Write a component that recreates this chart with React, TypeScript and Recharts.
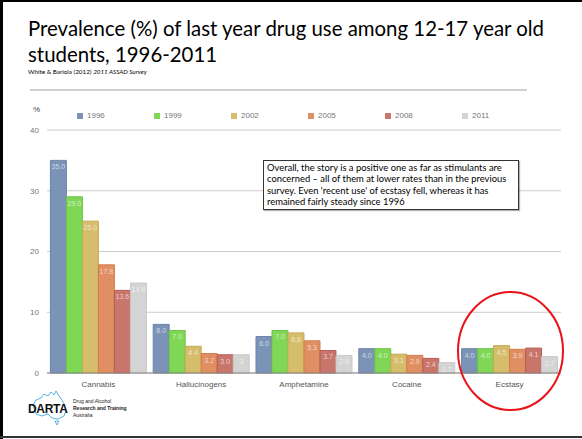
import React from 'react';
import { BarChart, Bar, XAxis, YAxis, CartesianGrid, LabelList } from 'recharts';

const drugs = ['Cannabis', 'Hallucinogens', 'Amphetamine', 'Cocaine', 'Ecstasy'];
const years = ['1996', '1999', '2002', '2005', '2008', '2011'];
const v1996 = [35.0, 8.0, 6.0, 4.0, 4.0];
const v1999 = [29.0, 7.0, 7.0, 4.0, 4.0];
const v2002 = [25.0, 4.4, 6.6, 3.1, 4.5];
const v2005 = [17.8, 3.2, 5.3, 2.9, 3.9];
const v2008 = [13.6, 3.0, 3.7, 2.4, 4.1];
const v2011 = [14.8, 3, 2.9, 1.7, 2.7];
const yTicks = [0, 10, 20, 30, 40];

const fills = ['#7b93b6', '#80d756', '#d6bd6c', '#e08f62', '#c8756b', '#d4d4d4'];
const strokes = ['#6d84a6', '#6cc348', '#c6a955', '#d37b4c', '#b75c52', '#c8c8c8'];

const seriesValues = [v1996, v1999, v2002, v2005, v2008, v2011];
const data = drugs.map((name, i) => {
  const row: Record<string, string | number> = { name };
  years.forEach((y, j) => {
    row[y] = seriesValues[j][i];
  });
  return row;
});

const noteLines = [
  'Overall, the story is a positive one as far as stimulants are',
  'concerned \u2013 all of them at lower rates than in the previous',
  "survey. Even 'recent use' of ecstasy fell, whereas it has",
  'remained fairly steady since 1996',
];

const chartFont = '"Liberation Sans", Arial, sans-serif';
const slideFont = 'Lato, "Open Sans", sans-serif';

const LegendRow = () => (
  <div style={{ display: 'flex', fontFamily: chartFont, fontSize: 8, color: '#777' }}>
    {years.map((y, i) => (
      <div key={y} style={{ width: 77, display: 'flex', alignItems: 'center' }}>
        <span style={{ display: 'inline-block', width: 6, height: 6, background: fills[i], marginRight: 4 }} />
        {y}
      </div>
    ))}
  </div>
);

export default function App() {
  return (
    <div style={{ position: 'absolute', left: 0, top: 0, width: 582, height: 439, background: '#fff', overflow: 'hidden' }}>
      {/* slide frame */}
      <div style={{ position: 'absolute', left: 0, top: 0, width: 3, height: 439, background: '#000' }} />
      <div style={{ position: 'absolute', left: 0, top: 0, width: 582, height: 2, background: '#000' }} />
      <div style={{ position: 'absolute', left: 0, top: 436, width: 582, height: 2, background: '#333' }} />

      <div style={{ position: 'absolute', left: 28, top: 15, fontFamily: slideFont, fontSize: 20.4, lineHeight: '26px', color: '#000', whiteSpace: 'nowrap' }}>
        Prevalence (%) of last year drug use among 12-17 year old
        <br />
        students, 1996-2011
      </div>
      <div style={{ position: 'absolute', left: 28, top: 68, fontFamily: slideFont, fontSize: 6.3, color: '#000' }}>
        White &amp; Bariola (2012) <i>2011 ASSAD Survey</i>
      </div>
      <div style={{ position: 'absolute', left: 30, top: 89, width: 497, height: 1.5, background: '#d0d0d0' }} />

      <div style={{ position: 'absolute', left: 33, top: 105, fontFamily: chartFont, fontSize: 8, color: '#444' }}>%</div>
      <div style={{ position: 'absolute', left: 77, top: 111 }}>
        <LegendRow />
      </div>

      <div style={{ position: 'absolute', left: 0, top: 0 }}>
        <BarChart
          width={582}
          height={439}
          data={data}
          margin={{ top: 130, right: 21, bottom: 46, left: 17 }}
          barCategoryGap="3.3%"
          barGap={0}
        >
          <CartesianGrid vertical={false} stroke="#cccccc" />
          <XAxis
            dataKey="name"
            tickLine={false}
            axisLine={{ stroke: '#888' }}
            tick={{ fontSize: 8, fill: '#555', fontFamily: chartFont }}
            height={20}
          />
          <YAxis
            domain={[0, 40]}
            ticks={yTicks}
            width={30}
            axisLine={false}
            tickLine={false}
            tick={{ fontSize: 8, fill: '#777', fontFamily: chartFont }}
          />
          {years.map((y, i) => (
            <Bar key={y} dataKey={y} fill={fills[i]} stroke={strokes[i]} strokeWidth={1} isAnimationActive={false}>
              <LabelList
                dataKey={y}
                position="insideTop"
                offset={4}
                fill="rgba(255,255,255,0.65)"
                fontSize={7}
                fontFamily={chartFont}
                formatter={(v: any) => (y === '2011' ? String(v) : Number(v).toFixed(1))}
              />
            </Bar>
          ))}
        </BarChart>
      </div>

      <div
        style={{
          position: 'absolute',
          left: 263,
          top: 160,
          width: 256,
          height: 50,
          border: '1px solid #333',
          background: '#fff',
          fontFamily: slideFont,
          fontSize: 9.4,
          lineHeight: '11.4px',
          padding: '1px 3px',
          boxSizing: 'border-box',
          whiteSpace: 'nowrap',
          boxShadow: '1px 1px 1px rgba(0,0,0,0.3)',
        }}
      >
        {noteLines.map((l) => (
          <div key={l}>{l}</div>
        ))}
      </div>

      <svg style={{ position: 'absolute', left: 0, top: 0 }} width={582} height={439}>
        <ellipse cx={510.5} cy={351} rx={52.5} ry={59} fill="none" stroke="#e8141a" strokeWidth={2} />
        {/* DARTA logo outline */}
        <path
          d="M33 405 L36 400 L41 398 L44 394 L48 396 L51 392 L54 395 L56 391 L59 396 L62 400 L64 404 L66 410 L64 416 L58 419 L52 418 L48 414 L42 416 L36 414 Z M55 421 L57 425 L59 421 Z"
          fill="none"
          stroke="#2a9fd8"
          strokeWidth={0.8}
        />
      </svg>
      <div style={{ position: 'absolute', left: 28, top: 402, fontFamily: '"Liberation Sans", Arial, sans-serif', fontSize: 12, fontWeight: 900, color: '#111', letterSpacing: -0.3 }}>
        DARTA
      </div>
      <div style={{ position: 'absolute', left: 73, top: 398, fontFamily: chartFont, fontSize: 5, lineHeight: '7px', color: '#222' }}>
        <div>Drug and Alcohol</div>
        <div style={{ fontWeight: 'bold' }}>Research and Training</div>
        <div>Australia</div>
      </div>
    </div>
  );
}
